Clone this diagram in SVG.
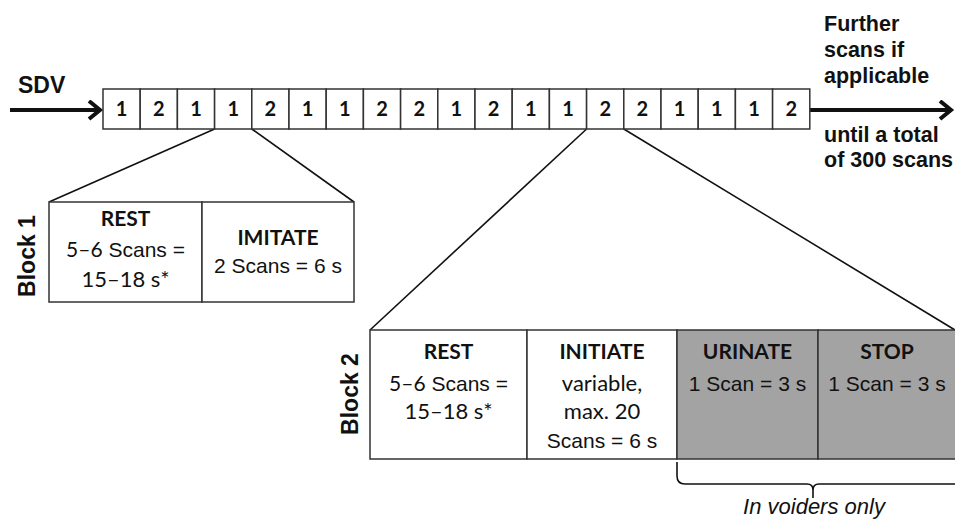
<svg xmlns="http://www.w3.org/2000/svg" width="955" height="525" viewBox="0 0 955 525">
<defs>
<style>
.cr{font-family:Lato,"Open Sans",sans-serif;font-weight:normal}
.cell{fill:#fff;stroke:#333;stroke-width:1.5}
.num{font-family:Lato,"Open Sans",sans-serif;font-weight:bold;font-size:20px;text-anchor:middle;fill:#111}
.box{fill:#fff;stroke:#333;stroke-width:1.5}
.gray{fill:#a3a3a3;stroke:#333;stroke-width:1.5}
.hd{font-family:Lato,"Open Sans",sans-serif;font-weight:bold;font-size:21px;text-anchor:middle;fill:#111}
.lr{font-family:Lato,"Open Sans",sans-serif;font-size:22px;text-anchor:middle;fill:#111}
.tx{font-family:"Liberation Sans",Arial,sans-serif;font-size:21px;text-anchor:middle;fill:#111}
.blk{font-family:"Liberation Sans",Arial,sans-serif;font-weight:bold;font-size:23px;text-anchor:middle;fill:#111}
.side{font-family:"Liberation Sans",Arial,sans-serif;font-weight:bold;font-size:21.5px;fill:#111}
.note{font-family:"Liberation Sans",Arial,sans-serif;font-style:italic;font-size:22px;text-anchor:middle;fill:#111}
.conn{stroke:#111;stroke-width:1.6;fill:none}
.arrow{stroke:#111;stroke-width:4;fill:none}
</style>
<marker id="chev" markerUnits="userSpaceOnUse" markerWidth="20" markerHeight="24" refX="13" refY="10" orient="auto">
<path d="M2,1 L13,10 L2,19" fill="none" stroke="#111" stroke-width="4"/>
</marker>
</defs>
<rect width="955" height="525" fill="#fff"/>

<g id="connectors">
<path class="arrow" d="M10,110 H100" marker-end="url(#chev)"/>
<path class="arrow" d="M810,110 H951" marker-end="url(#chev)"/>
<path class="conn" d="M214.6,129 L49,202"/>
<path class="conn" d="M251.8,129 L354,202"/>
<path class="conn" d="M586.6,129 L370,330"/>
<path class="conn" d="M623.8,129 L955,330"/>
<path class="conn" d="M677,462 V476 Q677,484 685,484 H807 Q813,484 813,490 V498 M813,490 Q813,484 819,484 H955"/>
</g>

<g id="sdv">
<text class="side" x="18" y="93" style="font-size:23px">SDV</text>
</g>

<g id="scan-strip">
<rect class="cell" x="103" y="89" width="37.2" height="40"/>
<rect class="cell" x="140.2" y="89" width="37.2" height="40"/>
<rect class="cell" x="177.4" y="89" width="37.2" height="40"/>
<rect class="cell" x="214.6" y="89" width="37.2" height="40"/>
<rect class="cell" x="251.8" y="89" width="37.2" height="40"/>
<rect class="cell" x="289" y="89" width="37.2" height="40"/>
<rect class="cell" x="326.2" y="89" width="37.2" height="40"/>
<rect class="cell" x="363.4" y="89" width="37.2" height="40"/>
<rect class="cell" x="400.6" y="89" width="37.2" height="40"/>
<rect class="cell" x="437.8" y="89" width="37.2" height="40"/>
<rect class="cell" x="475" y="89" width="37.2" height="40"/>
<rect class="cell" x="512.2" y="89" width="37.2" height="40"/>
<rect class="cell" x="549.4" y="89" width="37.2" height="40"/>
<rect class="cell" x="586.6" y="89" width="37.2" height="40"/>
<rect class="cell" x="623.8" y="89" width="37.2" height="40"/>
<rect class="cell" x="661" y="89" width="37.2" height="40"/>
<rect class="cell" x="698.2" y="89" width="37.2" height="40"/>
<rect class="cell" x="735.4" y="89" width="37.2" height="40"/>
<rect class="cell" x="772.6" y="89" width="37.2" height="40"/>
<text class="num" x="121.6" y="116">1</text>
<text class="num" x="158.8" y="116">2</text>
<text class="num" x="196" y="116">1</text>
<text class="num" x="233.2" y="116">1</text>
<text class="num" x="270.4" y="116">2</text>
<text class="num" x="307.6" y="116">1</text>
<text class="num" x="344.8" y="116">1</text>
<text class="num" x="382" y="116">2</text>
<text class="num" x="419.2" y="116">2</text>
<text class="num" x="456.4" y="116">1</text>
<text class="num" x="493.6" y="116">2</text>
<text class="num" x="530.8" y="116">1</text>
<text class="num" x="568" y="116">1</text>
<text class="num" x="605.2" y="116">2</text>
<text class="num" x="642.4" y="116">2</text>
<text class="num" x="679.6" y="116">1</text>
<text class="num" x="716.8" y="116">1</text>
<text class="num" x="754" y="116">1</text>
<text class="num" x="791.2" y="116">2</text>
</g>

<g id="further">
<text class="side" x="824" y="31">Further</text>
<text class="side" x="824" y="57">scans if</text>
<text class="side" x="824" y="83">applicable</text>
<text class="side" x="824" y="142">until a total</text>
<text class="side" x="824" y="167">of 300 scans</text>
</g>

<g id="block1">
<text class="blk" transform="translate(35,256) rotate(-90)">Block 1</text>
<rect class="box" x="49" y="202" width="153" height="100"/>
<rect class="box" x="202" y="202" width="152" height="100"/>
<text class="hd" x="125.5" y="226">REST</text>
<text class="tx" x="125.5" y="257"><tspan class="cr">5–6</tspan> Scans =</text>
<text class="lr" x="125.5" y="287">15–18 s*</text>
<text class="hd" x="278" y="245">IMITATE</text>
<text class="tx" x="278" y="273">2 Scans = 6 s</text>
</g>

<g id="block2">
<text class="blk" transform="translate(358,394) rotate(-90)">Block 2</text>
<rect class="box" x="370" y="330" width="157" height="129"/>
<rect class="box" x="527" y="330" width="150" height="129"/>
<rect class="gray" x="677" y="330" width="141" height="129"/>
<rect class="gray" x="818" y="330" width="140" height="129"/>
<text class="hd" x="448.5" y="359">REST</text>
<text class="tx" x="448.5" y="391"><tspan class="cr">5–6</tspan> Scans =</text>
<text class="lr" x="448.5" y="419">15–18 s*</text>
<text class="hd" x="602" y="359">INITIATE</text>
<text class="lr" x="602" y="391">variable,</text>
<text class="lr" x="602" y="419">max. 20</text>
<text class="tx" x="602" y="448">Scans = 6 s</text>
<text class="hd" x="747.5" y="359">URINATE</text>
<text class="tx" x="747.5" y="391">1 Scan = 3 s</text>
<text class="hd" x="887" y="359">STOP</text>
<text class="tx" x="887" y="391">1 Scan = 3 s</text>
</g>

<g id="voiders-note">
<text class="note" x="814" y="514">In voiders only</text>
</g>
</svg>
